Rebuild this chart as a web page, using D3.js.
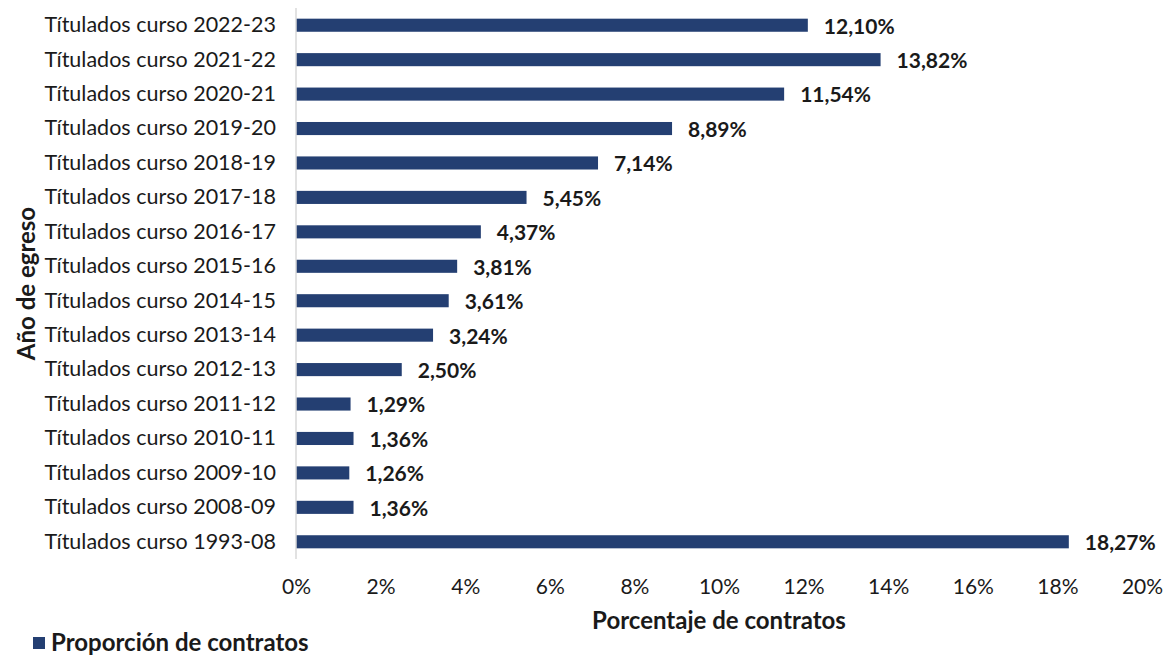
<!DOCTYPE html>
<html>
<head>
<meta charset="utf-8">
<script src="https://cdn.jsdelivr.net/npm/d3@7"></script>
<style>
  body { margin: 0; background: #fff; }
  svg { font-family: Lato, "Open Sans", sans-serif; }
</style>
</head>
<body>
<div id="chart"></div>
<script>
// categories, top to bottom
var categories = [
  'Títulados curso 2022-23', 'Títulados curso 2021-22', 'Títulados curso 2020-21',
  'Títulados curso 2019-20', 'Títulados curso 2018-19', 'Títulados curso 2017-18',
  'Títulados curso 2016-17', 'Títulados curso 2015-16', 'Títulados curso 2014-15',
  'Títulados curso 2013-14', 'Títulados curso 2012-13', 'Títulados curso 2011-12',
  'Títulados curso 2010-11', 'Títulados curso 2009-10', 'Títulados curso 2008-09',
  'Títulados curso 1993-08'
];
var values = [12.10, 13.82, 11.54, 8.89, 7.14, 5.45, 4.37, 3.81, 3.61, 3.24, 2.50, 1.29, 1.36, 1.26, 1.36, 18.27];
var xTicks = [0, 2, 4, 6, 8, 10, 12, 14, 16, 18, 20];
var seriesName = 'Proporción de contratos';

var width = 1168, height = 655;
var margin = {top: 8, right: 26, bottom: 96, left: 296};
var barColor = '#243f72';

var svg = d3.select('#chart').append('svg')
  .attr('width', width)
  .attr('height', height);

var x = d3.scaleLinear().domain([0, 20]).range([margin.left, width - margin.right]);
var y = d3.scaleBand().domain(categories)
  .range([margin.top, height - margin.bottom])
  .paddingInner(0.62).paddingOuter(0.31);

var data = categories.map(function (c, i) { return {cat: c, value: values[i]}; });

// bars
svg.selectAll('.bar')
  .data(data)
  .enter().append('rect')
  .attr('class', 'bar')
  .attr('x', x(0))
  .attr('y', function (d) { return y(d.cat); })
  .attr('width', function (d) { return x(d.value) - x(0); })
  .attr('height', y.bandwidth())
  .attr('fill', barColor);

// value labels
svg.selectAll('.val')
  .data(data)
  .enter().append('text')
  .attr('class', 'val')
  .attr('x', function (d) { return x(d.value) + 16; })
  .attr('y', function (d) { return y(d.cat) + y.bandwidth() / 2 + 1; })
  .attr('dy', '0.35em')
  .attr('font-size', 21)
  .attr('font-weight', 'bold')
  .attr('fill', '#1a1a1a')
  .text(function (d) { return d.value.toFixed(2).replace('.', ',') + '%'; });

// y axis (vertical line + category labels)
var yAxis = svg.append('g')
  .attr('transform', 'translate(' + x(0) + ',0)')
  .call(d3.axisLeft(y).tickSize(0).tickPadding(20));
yAxis.select('.domain').attr('stroke', '#d9d9d9').attr('stroke-width', 1.5)
  .attr('d', 'M0,' + margin.top + 'V' + (height - margin.bottom));
yAxis.selectAll('text').attr('font-size', 21.5).attr('fill', '#1a1a1a')
  .attr('font-family', 'Lato, sans-serif');

// x axis, tick labels only
var xAxis = svg.append('g')
  .attr('transform', 'translate(0,' + (height - margin.bottom) + ')')
  .call(d3.axisBottom(x).tickValues(xTicks).tickSize(0).tickPadding(20)
    .tickFormat(function (d) { return d + '%'; }));
xAxis.select('.domain').remove();
xAxis.selectAll('text').attr('font-size', 21).attr('fill', '#1a1a1a')
  .attr('font-family', 'Lato, sans-serif');

// axis titles
svg.append('text')
  .attr('x', (x(0) + x(20)) / 2)
  .attr('y', 629)
  .attr('text-anchor', 'middle')
  .attr('font-size', 24)
  .attr('font-weight', 'bold')
  .attr('fill', '#1a1a1a')
  .text('Porcentaje de contratos');

svg.append('text')
  .attr('transform', 'translate(35,' + ((margin.top + height - margin.bottom) / 2) + ') rotate(-90)')
  .attr('text-anchor', 'middle')
  .attr('font-size', 24)
  .attr('font-weight', 'bold')
  .attr('fill', '#1a1a1a')
  .text('Año de egreso');

// legend
var legend = svg.append('g').attr('transform', 'translate(33,643)');
legend.append('rect')
  .attr('x', 0).attr('y', -6)
  .attr('width', 12).attr('height', 12)
  .attr('fill', barColor);
legend.append('text')
  .attr('x', 18).attr('y', 0)
  .attr('dy', '0.35em')
  .attr('font-size', 24)
  .attr('font-weight', 'bold')
  .attr('fill', '#1a1a1a')
  .text(seriesName);
</script>
</body>
</html>
